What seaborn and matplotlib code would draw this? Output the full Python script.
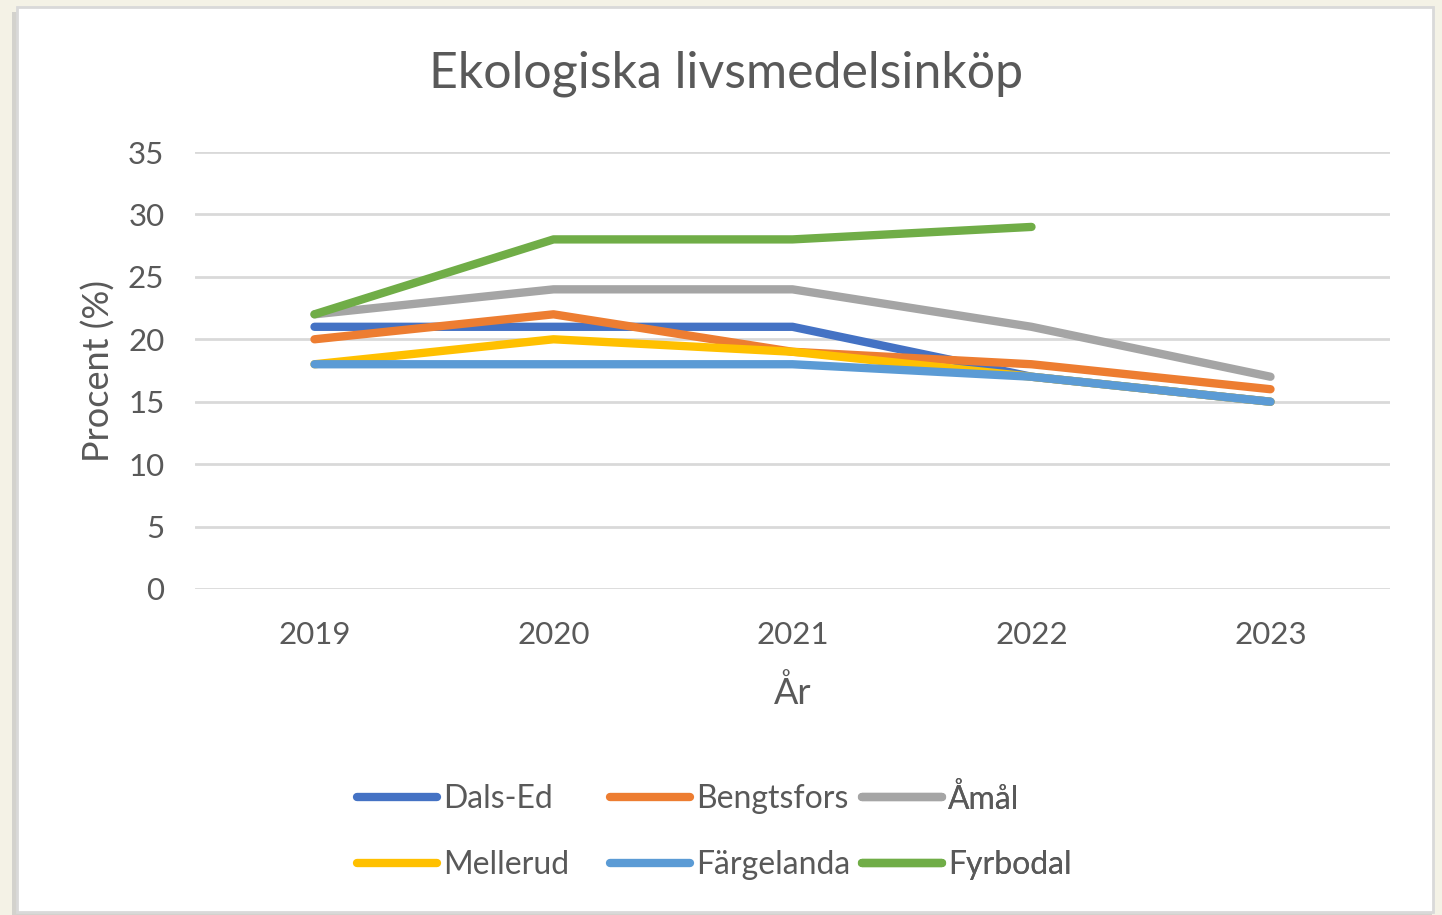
import pandas as pd
import matplotlib.pyplot as plt
import seaborn as sns
from matplotlib.patches import Rectangle

# ---- data ----
years = [2019, 2020, 2021, 2022, 2023]
dals_ed = [21, 21, 21, 17, 15]
bengtsfors = [20, 22, 19, 18, 16]
amal = [22, 24, 24, 21, 17]
mellerud = [18, 20, 19, 17, 15]
fargelanda = [18, 18, 18, 17, 15]
fyrbodal = [22, 28, 28, 29, None]

series = {
    'Dals-Ed': dals_ed,
    'Bengtsfors': bengtsfors,
    'Åmål': amal,
    'Mellerud': mellerud,
    'Färgelanda': fargelanda,
    'Fyrbodal': fyrbodal,
}
colors = ['#4472C4', '#ED7D31', '#A5A5A5', '#FFC000', '#5B9BD5', '#70AD47']

rows = []
for name, vals in series.items():
    for y, v in zip(years, vals):
        if v is not None:
            rows.append({'År': y, 'Procent': v, 'Kommun': name})
df = pd.DataFrame(rows)

# ---- style ----
sns.set_theme(style='white')
plt.rcParams['font.family'] = ['Lato', 'DejaVu Sans']
text_col = '#595959'

fig = plt.figure(figsize=(14.42, 9.15), dpi=100)
fig.patch.set_facecolor('#F4F2E6')

# white chart panel with a soft shadow (behind the axes)
fig.patches.append(Rectangle((12 / 1442, -0.01), 1420 / 1442, 1 - 12 / 915 + 0.01,
                             transform=fig.transFigure, facecolor='#BDBDBD',
                             edgecolor='none', alpha=0.6, zorder=-2))
fig.patches.append(Rectangle((17 / 1442, 3 / 915), 1416 / 1442, 1 - 10 / 915,
                             transform=fig.transFigure, facecolor='white',
                             edgecolor='#D9D9D9', linewidth=2, zorder=-1))

ax = fig.add_axes([195 / 1442, 1 - 589 / 915, 1195 / 1442, 437 / 915])
ax.set_facecolor('none')
ax.set_zorder(2)

sns.lineplot(data=df, x='År', y='Procent', hue='Kommun',
             hue_order=list(series.keys()), palette=colors,
             linewidth=6, solid_capstyle='round', ax=ax, legend=True)

ax.set_xlim(2018.5, 2023.5)
ax.set_ylim(0, 35)
ax.set_xticks(years)
ax.set_xticklabels([str(y) for y in years])
ax.set_yticks(range(0, 36, 5))
ax.yaxis.grid(True, color='#D9D9D9', linewidth=2)
ax.set_axisbelow(True)
for s in ax.spines.values():
    s.set_visible(False)
ax.tick_params(axis='both', length=0, labelsize=22.5, colors=text_col)
ax.tick_params(axis='y', pad=22)
ax.tick_params(axis='x', pad=23)

ax.set_xlabel('År', fontsize=26, color=text_col, labelpad=19)
ax.set_ylabel('Procent (%)', fontsize=26, color=text_col, labelpad=9)
fig.text(0.5035, 1 - 74 / 915, 'Ekologiska livsmedelsinköp', fontsize=36,
         color=text_col, ha='center', va='center')

# legend: three fixed-width columns, filled row by row like the original
handles, labels = ax.get_legend_handles_labels()
ax.get_legend().remove()
for h in handles:
    h.set_solid_capstyle('round')
col_x = [357, 610, 862]
for i, x in enumerate(col_x):
    leg = ax.legend([handles[i], handles[i + 3]], [labels[i], labels[i + 3]],
                    loc='center left', bbox_to_anchor=(x / 1442, 1 - 832 / 915),
                    bbox_transform=fig.transFigure, frameon=False, fontsize=23,
                    labelcolor=text_col, handlelength=2.5, handletextpad=0.2,
                    labelspacing=1.12, borderpad=0, borderaxespad=0)
    ax.add_artist(leg)

fig.savefig('out.png', dpi=100, facecolor=fig.get_facecolor())
